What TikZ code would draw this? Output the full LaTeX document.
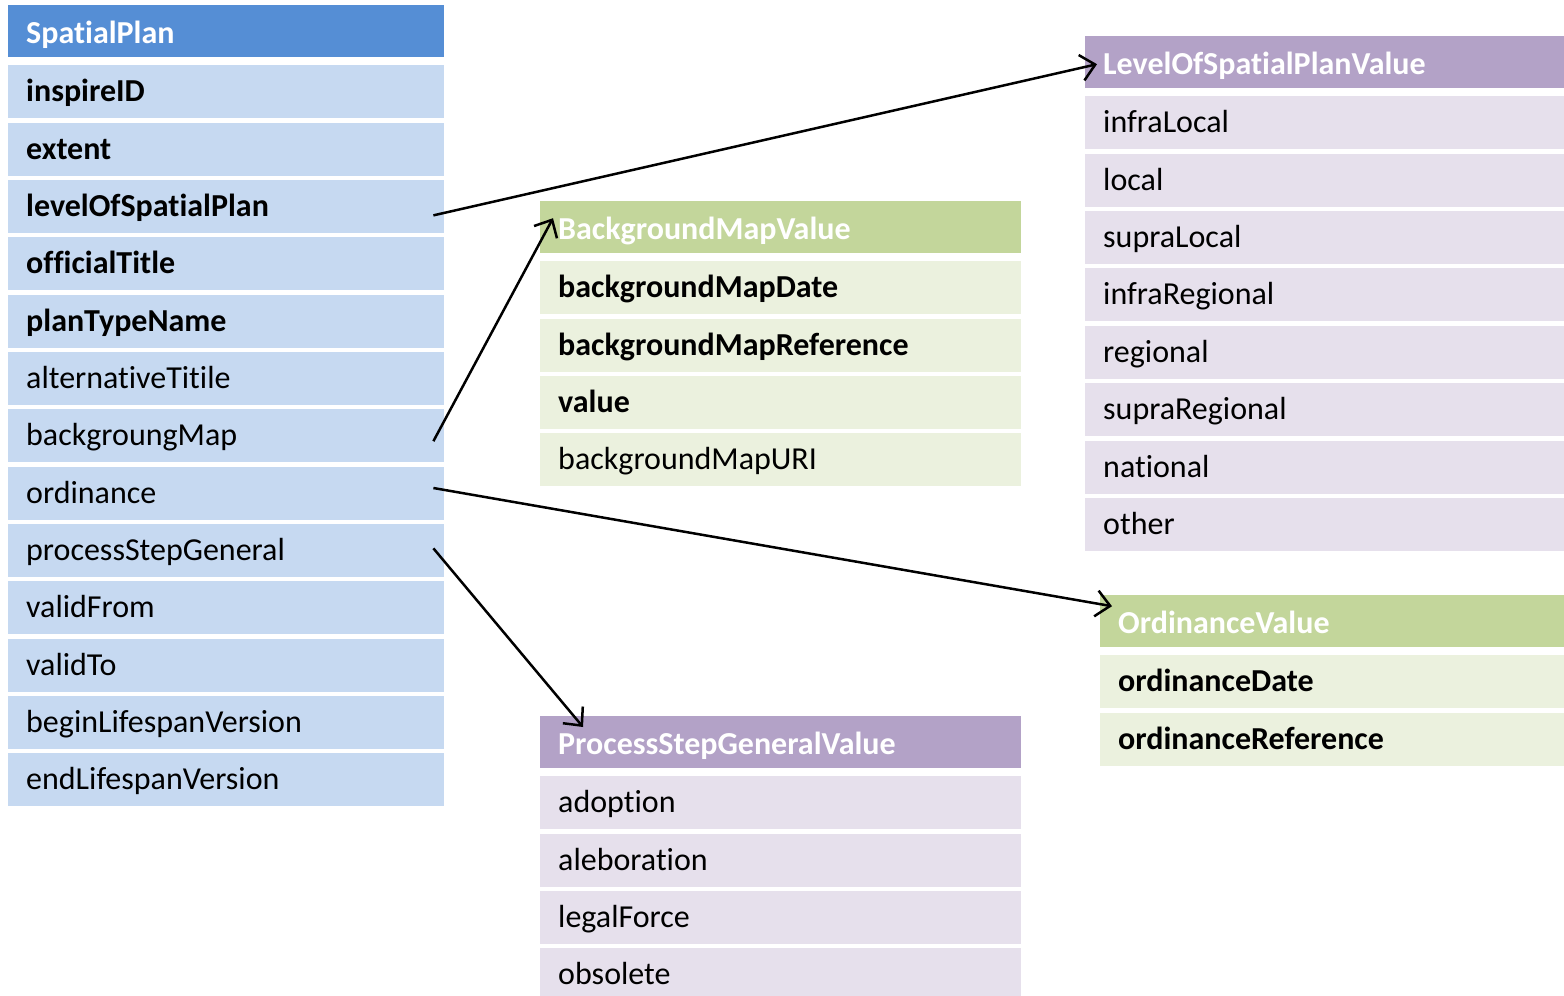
\documentclass[tikz,border=0pt]{standalone}
\usepackage{fontspec}
\setmainfont{Carlito}[Ligatures={NoCommon,NoRare,NoContextual}]
\usetikzlibrary{arrows.meta,calc}
\definecolor{hblue}{HTML}{558ED5}
\definecolor{rblue}{HTML}{C6D9F1}
\definecolor{hpurp}{HTML}{B3A2C7}
\definecolor{rpurp}{HTML}{E6E0EC}
\definecolor{hgreen}{HTML}{C3D69B}
\definecolor{rgreen}{HTML}{EBF1DE}
\begin{document}
\begin{tikzpicture}[x=1pt,y=-1pt,
  cell/.style={anchor=north west, minimum height=53pt, inner xsep=18pt, inner ysep=0pt,
    align=left, font=\fontsize{32}{38}\selectfont, text height=20pt, text depth=0pt},
  head/.style={cell, minimum height=52pt, text height=24pt, text=white, font=\fontsize{32}{38}\selectfont\bfseries},
  wl/.style={text width=400pt},
  wm/.style={text width=445pt},
  wr/.style={text width=443pt},
  wo/.style={text width=428pt},
  bf/.style={font=\fontsize{32}{38}\selectfont\bfseries},
  conn/.style={line width=2.5pt, -{Straight Barb[length=14pt,width=26pt,line width=2.5pt]}}
]
\useasboundingbox (0,0) rectangle (1564,996);
% SpatialPlan
\node[head, wl, fill=hblue] (sp) at (8,5) {SpatialPlan};
\foreach \t/\s [count=\i] in {inspireID/bf, extent/bf, levelOfSpatialPlan/bf, officialTitle/bf, planTypeName/bf,
  alternativeTitile/cell, backgroungMap/cell, ordinance/cell, processStepGeneral/cell, validFrom/cell,
  validTo/cell, beginLifespanVersion/cell, endLifespanVersion/cell}
  \node[cell, wl, fill=rblue, \s] (sp\i) at (8,{65+57.33*(\i-1)}) {\t};
% BackgroundMapValue
\node[head, wm, fill=hgreen] (bg) at (540,201) {BackgroundMapValue};
\foreach \t/\s [count=\i] in {backgroundMapDate/bf, backgroundMapReference/bf, value/bf, backgroundMapURI/cell}
  \node[cell, wm, fill=rgreen, \s] (bg\i) at (540,{261+57.4*(\i-1)}) {\t};
% LevelOfSpatialPlanValue
\node[head, wr, fill=hpurp] (lv) at (1085,36) {LevelOfSpatialPlanValue};
\foreach \t [count=\i] in {infraLocal, local, supraLocal, infraRegional, regional, supraRegional, national, other}
  \node[cell, wr, fill=rpurp] (lv\i) at (1085,{96+57.4*(\i-1)}) {\t};
% OrdinanceValue
\node[head, wo, fill=hgreen] (od) at (1100,595) {OrdinanceValue};
\foreach \t [count=\i] in {ordinanceDate, ordinanceReference}
  \node[cell, wo, fill=rgreen, bf] (od\i) at (1100,{655+57.4*(\i-1)}) {\t};
% ProcessStepGeneralValue
\node[head, wm, fill=hpurp] (ps) at (540,716) {ProcessStepGeneralValue};
\foreach \t [count=\i] in {adoption, aleboration, legalForce, obsolete}
  \node[cell, wm, fill=rpurp] (ps\i) at (540,{776+57.4*(\i-1)}) {\t};
% connectors
\coordinate (a1) at ($(sp3.east)+(-11,9)$);
\coordinate (b1) at ($(lv.west)+(12,2)$);
\coordinate (a2) at ($(sp7.east)+(-11,5.5)$);
\coordinate (b2) at ($(bg.west)+(13,-9)$);
\coordinate (a3) at ($(sp8.east)+(-11,-5)$);
\coordinate (b3) at ($(od.west)+(12,-15)$);
\coordinate (a4) at ($(sp9.east)+(-11,-2)$);
\coordinate (b4) at ($(ps.north west)+(43,11)$);
\draw[conn] (a1) -- (b1);
\draw[conn] (a2) -- (b2);
\draw[conn] (a3) -- (b3);
\draw[conn] (a4) -- (b4);
\end{tikzpicture}
\end{document}
